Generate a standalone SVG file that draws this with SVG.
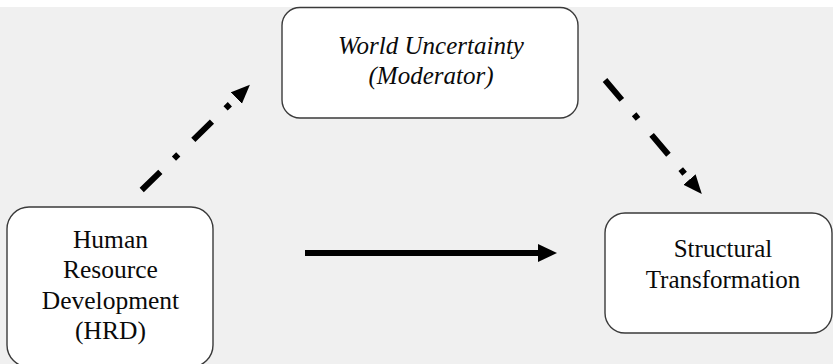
<svg xmlns="http://www.w3.org/2000/svg" width="833" height="364" viewBox="0 0 833 364">
  <style>
    .box { fill: #ffffff; stroke: #3a3a3a; stroke-width: 1.4; }
    .lbl { fill: #0a0a0a; text-anchor: middle; }
    .dd { fill: none; stroke: #000000; stroke-width: 6; stroke-dasharray: 26 19 6 21; stroke-linecap: butt; }
    .solid { fill: none; stroke: #000000; stroke-width: 6; }
  </style>
  <defs>
    <marker id="head" markerUnits="userSpaceOnUse" markerWidth="22" markerHeight="20" refX="0" refY="9" orient="auto">
      <polygon points="0,0 19,9 0,18" fill="#000000"/>
    </marker>
    <marker id="headS" markerUnits="userSpaceOnUse" markerWidth="22" markerHeight="20" refX="0" refY="8" orient="auto">
      <polygon points="0,0 19,8 0,16" fill="#000000"/>
    </marker>
  </defs>

  <rect x="0" y="0" width="833" height="364" fill="#ffffff"/>
  <rect x="0" y="7" width="833" height="357" fill="#f0f0f0"/>

  <g id="connectors">
    <path class="dd" d="M141.7,190 L236.3,98" marker-end="url(#headS)"/>
    <path class="dd" d="M605,80 L689.5,179.5" marker-end="url(#headS)"/>
    <path class="solid" d="M305,253 L538,253" marker-end="url(#head)"/>
  </g>

  <g id="node-world-uncertainty" font-family="Liberation Serif, DejaVu Serif, serif" font-style="italic">
    <rect class="box" x="282" y="7.5" width="296" height="110.5" rx="18" ry="18"/>
    <text class="lbl" x="431" y="53.5" font-size="25">World Uncertainty</text>
    <text class="lbl" x="431" y="84" font-size="25">(Moderator)</text>
  </g>

  <g id="node-hrd" font-family="Liberation Serif, DejaVu Serif, serif">
    <rect class="box" x="7" y="207" width="206" height="160" rx="22" ry="22"/>
    <text class="lbl" x="110.5" y="248" font-size="25.5">Human</text>
    <text class="lbl" x="110.5" y="278" font-size="25.5">Resource</text>
    <text class="lbl" x="110.5" y="308.5" font-size="25.5">Development</text>
    <text class="lbl" x="110.5" y="339" font-size="25.5">(HRD)</text>
  </g>

  <g id="node-structural-transformation" font-family="Liberation Serif, DejaVu Serif, serif">
    <rect class="box" x="605" y="213" width="227" height="120" rx="20" ry="20"/>
    <text class="lbl" x="723" y="257" font-size="25">Structural</text>
    <text class="lbl" x="723" y="287.5" font-size="25">Transformation</text>
  </g>
</svg>
